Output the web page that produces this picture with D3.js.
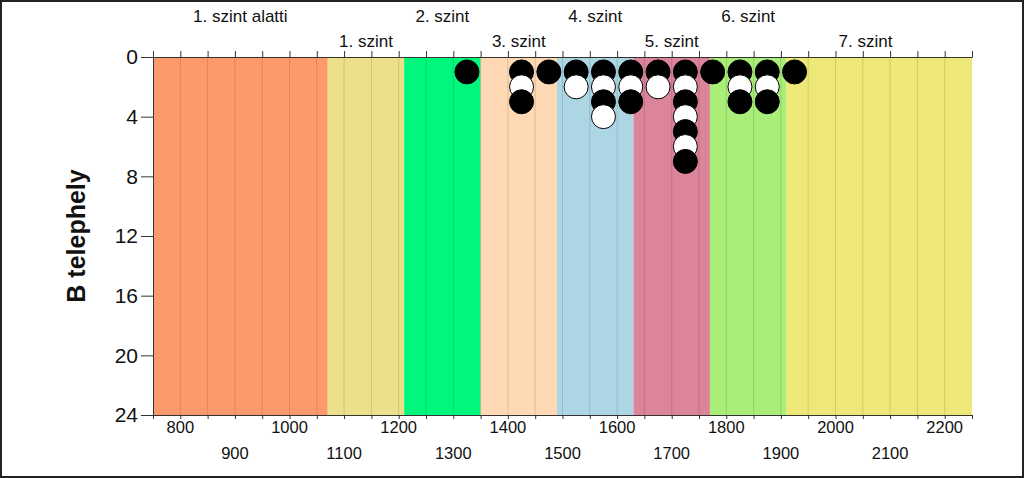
<!DOCTYPE html>
<html><head><meta charset="utf-8">
<script src="https://cdn.jsdelivr.net/npm/d3@7"></script>
<style>body{margin:0;background:#fff;}svg{display:block;font-family:Arial,"Liberation Sans",sans-serif;}</style>
</head><body><svg id="c" width="1024" height="478"></svg>
<script>
// ---- data ----
const bandNames = ["1. szint alatti","1. szint","2. szint","3. szint","4. szint","5. szint","6. szint","7. szint"];
const bandStart = [750,1070,1210,1350,1490,1630,1770,1910];
const bandEnd   = [1070,1210,1350,1490,1630,1770,1910,2250];
const bandLabelAt = [910,1140,1280,1420,1560,1700,1840,2055];
const bandColors = ["#FD9A6C","#EDE08A","#00F77C","#FFD8B4","#ACD6E4","#DC8499","#A9EE78","#EEE878"];
const dotX = [1325,1425,1475,1525,1575,1625,1675,1725,1775,1825,1875,1925];
const dotStack = ["B","BWB","B","BW","BWBW","BWB","BW","BWBWBWB","B","BWB","BWB","B"];
const xTicksTop = d3.range(750,2251,50);
const xLabelsRow1 = [800,1000,1200,1400,1600,1800,2000,2200];
const xLabelsRow2 = [900,1100,1300,1500,1700,1900,2100];
const yTicks = [0,4,8,12,16,20,24];
const yTitle = "B telephely";

// ---- layout ----
const svg = d3.select("#c");
const L=153, T=57, R=972, B=415;
const x = d3.scaleLinear().domain([750,2250]).range([L,R]);
const y = d3.scaleLinear().domain([0,24]).range([T,B]);

svg.append("rect").attr("x",1).attr("y",1).attr("width",1022).attr("height",476)
  .attr("fill","#fff").attr("stroke","#222").attr("stroke-width",2);

// bands
svg.append("g").selectAll("rect").data(bandNames).join("rect")
  .attr("x",(d,i)=>x(bandStart[i])).attr("y",T)
  .attr("width",(d,i)=>x(bandEnd[i])-x(bandStart[i])).attr("height",B-T)
  .attr("fill",(d,i)=>bandColors[i]);

// gridlines
svg.append("g").selectAll("line").data(xTicksTop.slice(1,-1)).join("line")
  .attr("x1",d=>x(d)).attr("x2",d=>x(d)).attr("y1",T).attr("y2",B)
  .attr("stroke","rgba(0,0,0,0.13)").attr("stroke-width",1);

// top axis
const topAx = svg.append("g").attr("transform",`translate(0,${T})`)
  .call(d3.axisTop(x).tickValues(xTicksTop).tickSize(6).tickFormat(""));
topAx.select(".domain").attr("stroke","#333");
topAx.selectAll(".tick line").attr("stroke","#333");

// bottom axis
const botAx = svg.append("g").attr("transform",`translate(0,${B})`)
  .call(d3.axisBottom(x).tickValues(xTicksTop).tickSize(4).tickFormat(""));
botAx.select(".domain").attr("stroke","#333");
botAx.selectAll(".tick line").attr("stroke","#333");

svg.append("g").selectAll("text").data(xLabelsRow1).join("text")
  .attr("x",d=>x(d)).attr("y",433).attr("text-anchor","middle")
  .attr("font-size",16.5).attr("fill","#111").text(d=>d);
svg.append("g").selectAll("text").data(xLabelsRow2).join("text")
  .attr("x",d=>x(d)).attr("y",459).attr("text-anchor","middle")
  .attr("font-size",16.5).attr("fill","#111").text(d=>d);

// left axis
const leftAx = svg.append("g").attr("transform",`translate(${L},0)`)
  .call(d3.axisLeft(y).tickValues(yTicks).tickSize(12).tickPadding(3));
leftAx.select(".domain").attr("stroke","#333");
leftAx.selectAll(".tick line").attr("stroke","#333");
leftAx.selectAll(".tick text").attr("font-size",21).attr("fill","#111").attr("font-family","Arial,'Liberation Sans',sans-serif");

svg.append("text").attr("transform",`translate(85,${(T+B)/2}) rotate(-90)`)
  .attr("text-anchor","middle").attr("font-size",25).attr("font-weight","bold")
  .attr("fill","#111").text(yTitle);

// band labels
svg.append("g").selectAll("text").data(bandNames).join("text")
  .attr("x",(d,i)=>x(bandLabelAt[i])).attr("y",(d,i)=>i%2===0?22:47)
  .attr("text-anchor","middle").attr("font-size",17).attr("fill","#111").text(d=>d);

// dots
const dots = [];
dotX.forEach((xv,i)=>{ dotStack[i].split("").forEach((c,j)=>dots.push({x:xv,y:j+1,c})); });
svg.append("g").selectAll("circle").data(dots).join("circle")
  .attr("cx",d=>x(d.x)).attr("cy",d=>y(d.y)).attr("r",12)
  .attr("fill",d=>d.c==="B"?"#000":"#fff").attr("stroke","#000").attr("stroke-width",1);
</script></body></html>
